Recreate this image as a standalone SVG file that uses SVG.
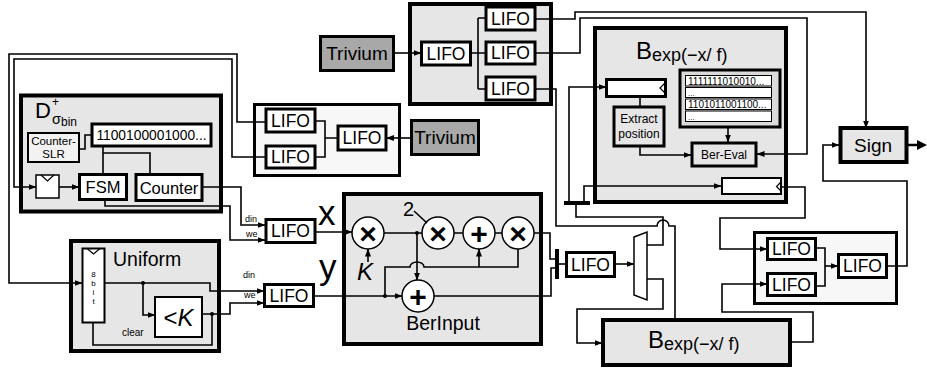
<svg xmlns="http://www.w3.org/2000/svg" width="927" height="372" viewBox="0 0 927 372">
<style>
text{font-family:"Liberation Sans",Arial,sans-serif;fill:#000}
.g4{fill:#e6e6e6;stroke:#000;stroke-width:4}
.g3{fill:#e6e6e6;stroke:#000;stroke-width:3}
.lt{fill:#f7f7f7;stroke:#000;stroke-width:3}
.lifo{fill:#fff;stroke:#000;stroke-width:3}
.wb{fill:#fff;stroke:#000;stroke-width:2}
.tri{fill:#a8a8a8;stroke:#000;stroke-width:3}
.w{fill:none;stroke:#000;stroke-width:1.6}
.wa{fill:none;stroke:#000;stroke-width:1.6;marker-end:url(#a)}
.bar{fill:none;stroke:#000;stroke-width:4}
.op{fill:#fff;stroke:#000;stroke-width:1.5}
.lt17{font-size:17.5px;text-anchor:middle}
.m{text-anchor:middle}
.sym{font-size:30px;font-weight:bold;text-anchor:middle}
</style>
<defs>
<marker id="a" markerWidth="8" markerHeight="6" refX="7.5" refY="3" orient="auto" markerUnits="userSpaceOnUse"><path d="M0,0L8,3L0,6z" fill="#000"/></marker>
</defs>

<g id="dsigma">
<rect class="g4" x="21" y="95.5" width="200" height="116"/>
<text x="35" y="118" font-size="22">D</text>
<text x="52" y="106" font-size="12">+</text>
<text x="52" y="124" font-size="14.5">σ</text>
<text x="61" y="126" font-size="12">bin</text>
<g id="counter-slr">
<rect x="28" y="133" width="51" height="29" fill="#f2f2f2" stroke="#000" stroke-width="2"/>
<text class="m" x="53.5" y="145" font-size="11.5">Counter-</text>
<text class="m" x="53.5" y="158" font-size="11.5">SLR</text>
</g>
<g id="bits">
<rect class="lifo" x="92" y="124" width="119" height="22"/>
<text class="m" x="151.5" y="140" font-size="13.8">1100100001000...</text>
</g>
<g id="reg-d">
<rect x="36" y="175" width="23" height="23" fill="#fff" stroke="#000" stroke-width="1.5"/>
<polyline points="41,175 47.5,181 54,175" fill="none" stroke="#000" stroke-width="1.2"/>
</g>
<g id="fsm">
<rect class="lifo" x="79.5" y="174.5" width="47" height="25"/>
<text class="m" x="103" y="193" font-size="16.5">FSM</text>
</g>
<g id="counter">
<rect class="lifo" x="136" y="174.5" width="66" height="26"/>
<text class="m" x="169" y="193.5" font-size="16.5">Counter</text>
</g>
</g>

<g id="uniform">
<rect class="g4" x="71" y="241" width="148" height="110"/>
<text x="113" y="266" font-size="19.5">Uniform</text>
<g id="reg8">
<rect class="wb" x="82.5" y="248.5" width="22" height="74"/>
<polyline points="87,248.5 93.5,254 100,248.5" fill="none" stroke="#000" stroke-width="1.2"/>
<text class="m" x="93.5" y="276.5" font-size="8">8</text>
<text class="m" x="93.5" y="285.5" font-size="8">b</text>
<text class="m" x="93.5" y="294.5" font-size="8">i</text>
<text class="m" x="93.5" y="303.5" font-size="8">t</text>
</g>
<g id="ltk">
<rect class="wb" x="155" y="297" width="47" height="40"/>
<text class="m" x="178.5" y="326" font-size="24">&lt;<tspan font-style="italic">K</tspan></text>
</g>
<text x="122" y="336" font-size="10">clear</text>
</g>

<g id="lifo-group-left">
<rect class="lt" x="254.5" y="104.5" width="145" height="71"/>
<rect class="lifo" x="266" y="109" width="49" height="23"/>
<text class="lt17" x="290.5" y="126.7">LIFO</text>
<rect class="lifo" x="266" y="146" width="49" height="22"/>
<text class="lt17" x="290.5" y="163">LIFO</text>
<rect class="lifo" x="338" y="126" width="48" height="24"/>
<text class="lt17" x="362" y="144">LIFO</text>
</g>
<g id="trivium2">
<rect class="tri" x="411.5" y="120.5" width="67" height="34"/>
<text class="m" x="445" y="144" font-size="19">Trivium</text>
</g>

<g id="trivium1">
<rect class="tri" x="320.5" y="36.5" width="73" height="34"/>
<text class="m" x="357" y="60" font-size="19">Trivium</text>
</g>
<g id="lifo-group-top">
<rect class="g4" x="410" y="4" width="141" height="100"/>
<rect class="lifo" x="421.5" y="42" width="49" height="23"/>
<text class="lt17" x="446" y="59.5">LIFO</text>
<rect class="lifo" x="486" y="7" width="49" height="23"/>
<text class="lt17" x="510.5" y="24.5">LIFO</text>
<rect class="lifo" x="486" y="42" width="49" height="22"/>
<text class="lt17" x="510.5" y="59">LIFO</text>
<rect class="lifo" x="486" y="77" width="49" height="23"/>
<text class="lt17" x="510.5" y="94.5">LIFO</text>
</g>

<g id="lifo-x">
<rect class="lifo" x="266" y="219.5" width="49" height="23"/>
<text class="lt17" x="290.5" y="237">LIFO</text>
<text x="245" y="222" font-size="9">din</text>
<text x="246" y="237" font-size="9">we</text>
<text x="318" y="225" font-size="35">x</text>
</g>
<g id="lifo-y">
<rect class="lifo" x="264.5" y="284.5" width="49" height="22"/>
<text class="lt17" x="289" y="301.5">LIFO</text>
<text x="243" y="278" font-size="9">din</text>
<text x="244" y="298" font-size="9">we</text>
<text x="319" y="279" font-size="35">y</text>
</g>

<g id="berinput">
<rect class="g4" x="344" y="194" width="197" height="150"/>
<circle class="op" cx="368" cy="233" r="16"/>
<text class="sym" x="368" y="243.5">×</text>
<circle class="op" cx="438" cy="233" r="16"/>
<text class="sym" x="438" y="243.5">×</text>
<circle class="op" cx="479" cy="233" r="16"/>
<text class="sym" x="479" y="243.5">+</text>
<circle class="op" cx="518" cy="233" r="16"/>
<text class="sym" x="518" y="243.5">×</text>
<circle class="op" cx="418" cy="296" r="16"/>
<text class="sym" x="418" y="306.5">+</text>
<text class="m" x="365" y="280" font-size="24" font-style="italic">K</text>
<text x="403" y="216" font-size="20">2</text>
<text class="m" x="443" y="330" font-size="19.5">BerInput</text>
</g>

<g id="lifo-mid">
<rect class="lifo" x="566.5" y="252.5" width="48" height="24"/>
<text class="lt17" x="590.5" y="270.5">LIFO</text>
</g>
<g id="mux">
<polygon points="634,237 647,232 647,300 634,295" fill="#fff" stroke="#000" stroke-width="1.5"/>
</g>

<g id="bexp-top">
<rect class="g4" x="595" y="28" width="191" height="174"/>
<text x="636" y="59" font-size="24">B<tspan font-size="18" dy="2">exp(−x/ f)</tspan></text>
<g id="reg-pos">
<rect class="lifo" x="606.5" y="79.5" width="59" height="17"/>
<polyline points="665,83 660,88 665,93" fill="none" stroke="#000" stroke-width="1.2"/>
</g>
<g id="extract">
<rect class="g3" x="614" y="107" width="50" height="39"/>
<text class="m" x="639" y="123" font-size="12">Extract</text>
<text class="m" x="639" y="138" font-size="12">position</text>
</g>
<g id="rom">
<rect x="680" y="70" width="100" height="57" fill="#dadada" stroke="#000" stroke-width="3"/>
<rect x="685.5" y="75.5" width="86" height="10.5" fill="#fff" stroke="#000" stroke-width="1"/>
<rect x="685.5" y="87.5" width="86" height="10" fill="#fff" stroke="#000" stroke-width="1"/>
<rect x="685.5" y="99" width="86" height="10.5" fill="#fff" stroke="#000" stroke-width="1"/>
<rect x="685.5" y="111" width="86" height="10.5" fill="#fff" stroke="#000" stroke-width="1"/>
<text x="688" y="84.5" font-size="10">1111111010010...</text>
<text x="688" y="96" font-size="8">...</text>
<text x="688" y="108" font-size="10">1101011001100...</text>
<text x="688" y="120" font-size="8">...</text>
</g>
<g id="ber-eval">
<rect class="g3" x="692" y="143" width="64" height="23"/>
<text class="m" x="724" y="159" font-size="12">Ber-Eval</text>
</g>
<g id="reg-out">
<rect class="wb" x="722" y="178" width="59" height="16"/>
<polyline points="781,182 776.5,186.5 781,191" fill="none" stroke="#000" stroke-width="1.2"/>
</g>
</g>

<g id="sign">
<rect class="g4" x="840.5" y="128" width="66" height="34"/>
<text class="m" x="873" y="152" font-size="19">Sign</text>
</g>

<g id="lifo-group-right">
<rect class="lt" x="754.5" y="232.5" width="142" height="71"/>
<rect class="lifo" x="767.5" y="238.5" width="48" height="21"/>
<text class="lt17" x="791.5" y="255">LIFO</text>
<rect class="lifo" x="767.5" y="273.5" width="48" height="22"/>
<text class="lt17" x="791.5" y="290.5">LIFO</text>
<rect class="lifo" x="838.5" y="254.5" width="48" height="23"/>
<text class="lt17" x="862.5" y="272">LIFO</text>
</g>

<g id="bexp-bottom">
<rect class="g4" x="603" y="320" width="187" height="45"/>
<text x="648" y="348" font-size="24">B<tspan font-size="18" dy="2">exp(−x/ f)</tspan></text>
</g>

<g id="connectors">
<path class="wa" d="M266,122H237V54H9V283H82"/>
<path class="wa" d="M266,157H232V59H14V187H36"/>
<path class="wa" d="M59,187H79"/>
<path class="w" d="M79,149H85V135H92"/>
<path class="w" d="M103,146V174.5M103,153H150V174.5"/>
<path class="wa" d="M105,200V206H230V240H265"/>
<path class="wa" d="M202,187H241V225H265"/>
<path class="wa" d="M104.5,283H210V291H264"/>
<path class="wa" d="M143,283V315H155"/>
<circle cx="143" cy="283" r="2"/>
<path class="wa" d="M202,314H230V303H264"/>
<path class="w" d="M212,314V345H93V323"/>
<circle cx="212" cy="314" r="2"/>
<path class="w" d="M315,121H325V157H315M325,138H338"/>
<path class="wa" d="M411,138H386.5"/>
<path class="wa" d="M394,53H421"/>
<path class="w" d="M470.5,53H486M478,18V89M478,18H486M478,89H486"/>
<path class="wa" d="M535,19H575V12H866V128"/>
<path class="wa" d="M535,53H580V18H807V154H757"/>
<path class="w" d="M535,89H556V226H657A6,6 0 0 1 669,226H675V320"/>
<path class="wa" d="M315,232H352"/>
<path class="wa" d="M313,296H402"/>
<path class="w" d="M384,233H422"/>
<path class="wa" d="M417,233V280"/>
<circle cx="417" cy="233" r="2"/>
<path class="w" d="M454,233H463M495,233H502"/>
<path class="w" d="M518,249V267H424A7,5 0 0 0 410,267H385V296"/>
<circle cx="385" cy="296" r="2"/>
<path class="wa" d="M479,267V249"/>
<path class="wa" d="M368,262V249"/>
<path class="w" d="M414,211L427,223"/>
<path class="w" d="M534,233H550V259H557"/>
<path class="w" d="M434,296H551V268H557"/>
<path class="bar" d="M557,249V279"/>
<path class="w" d="M559,264H566.5"/>
<path class="wa" d="M614.5,264H634"/>
<path class="w" d="M647,245H663V217H576V203"/>
<path class="bar" d="M564,203H590"/>
<path class="wa" d="M569,203V87H606"/>
<path class="wa" d="M584,203V186H721"/>
<path class="wa" d="M647,279H663V309H577V343H602"/>
<path class="w" d="M640,97V107"/>
<path class="wa" d="M640,146V155H691"/>
<path class="wa" d="M728,127V142"/>
<path class="wa" d="M781,187H805V218H720V249H767"/>
<path class="wa" d="M790,342H813V312H722V284H767"/>
<path class="w" d="M815.5,248H825V286H815.5"/>
<path class="wa" d="M825,266H838"/>
<path class="wa" d="M886.5,266H907V181H823V145H839"/>
<path d="M907,145H918" stroke="#000" stroke-width="2.5"/>
<path d="M917,140L927,145L917,150z" fill="#000"/>
</g>
</svg>
